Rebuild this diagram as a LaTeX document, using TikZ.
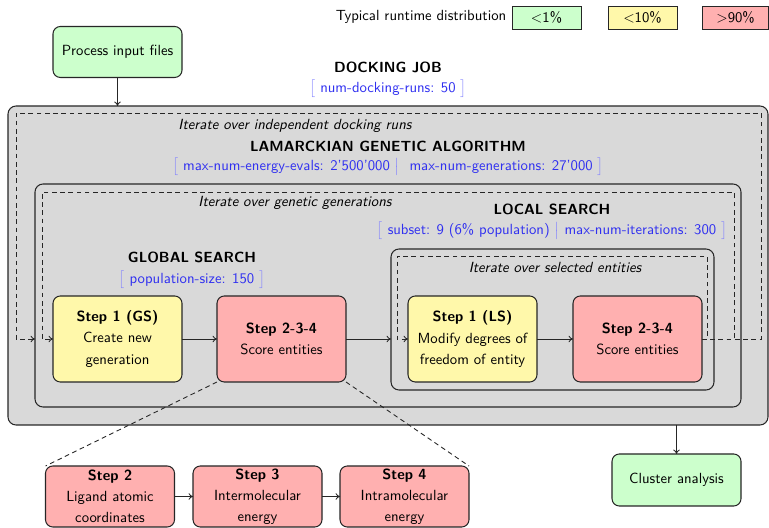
\documentclass[tikz,border=0pt]{standalone}
\usetikzlibrary{arrows.meta}
\renewcommand{\familydefault}{\sfdefault}

\definecolor{fastgreen}{HTML}{CCFFCC}
\definecolor{midyellow}{HTML}{FFF8AA}
\definecolor{slowred}{HTML}{FFB0B0}
\definecolor{panelgray}{HTML}{D9D9D9}
\definecolor{parblue}{HTML}{3030F0}
\definecolor{brackblue}{HTML}{8080FF}

% parameter brackets and separator
\newcommand{\pbopen}{{\color{brackblue}$\big[$}\ }
\newcommand{\pbclose}{\ {\color{brackblue}$\big]$}}
\newcommand{\pbsep}{\ {\color{brackblue}$\big|$}\ \ }

\begin{document}
\begin{tikzpicture}[
  x=0.68pt, y=-0.68pt,
  font=\sffamily,
  stepbox/.style={draw=black!85, line width=0.7pt, rounded corners=5pt,
    align=center, inner sep=0pt, outer sep=0pt,
    minimum width=129*0.68pt, minimum height=86*0.68pt,
    font=\sffamily\fontsize{10}{14.3}\selectfont},
  panel/.style={draw=black!85, line width=0.7pt, fill=panelgray,
    rounded corners=5.5pt, inner sep=0pt, outer sep=0pt},
  legbox/.style={draw=black!85, line width=0.6pt, inner sep=0pt,
    minimum width=69*0.68pt, minimum height=23*0.68pt},
  loopline/.style={draw=black!85, line width=0.6pt, dash pattern=on 3.2pt off 2.4pt},
  flow/.style={-{To[length=3pt,width=4.5pt]}, line width=0.6pt, draw=black!85},
  params/.style={text=parblue, inner sep=0.5pt},
  heading/.style={font=\sffamily\bfseries, inner sep=0.5pt},
  itlabel/.style={font=\sffamily\itshape, inner sep=0.5pt},
]
\useasboundingbox (0,0) rectangle (769,528);

% legend
\node (legtext) at (421,17) {Typical runtime distribution};
\node[legbox, fill=fastgreen] (leggreen) at (546.5,17.5) {$<$1\%};
\node[legbox, fill=midyellow] (legyellow) at (642.5,17.5) {$<$10\%};
\node[legbox, fill=slowred, minimum width=66*0.68pt] (legred) at (735.5,17.5) {$>$90\%};

% input and output
\node[stepbox, fill=fastgreen, minimum height=51*0.68pt] (proc) at (117.5,52) {Process input files};
\node[stepbox, fill=fastgreen, minimum height=52*0.68pt] (cluster) at (676.5,480) {Cluster analysis};

% nested panels
\node[panel, minimum width=760*0.68pt, minimum height=319*0.68pt] (job) at (388,265.5) {};
\node[panel, minimum width=706*0.68pt, minimum height=223*0.68pt] (lga) at (388,295.5) {};
\node[panel, minimum width=323*0.68pt, minimum height=141*0.68pt] (ls) at (552.5,319.5) {};

% titles and parameters
\node[heading] (jobtitle) at (388,67) {DOCKING JOB};
\node[params] (jobpar) at (388,89) {\pbopen num-docking-runs: 50\pbclose};
\node[itlabel] (runsloop) at (295,126) {Iterate over independent docking runs};
\node[heading] (lgatitle) at (388,146) {LAMARCKIAN GENETIC ALGORITHM};
\node[params] (lgapar) at (388,167) {\pbopen max-num-energy-evals: 2'500'000\pbsep max-num-generations: 27'000\pbclose};
\node[itlabel] (genloop) at (295,203) {Iterate over genetic generations};
\node[heading] (lstitle) at (552,209) {LOCAL SEARCH};
\node[params] (lspar) at (552,231) {\pbopen subset: 9 (6\% population)\ {\color{brackblue}$\big|$}\ max-num-iterations: 300\pbclose};
\node[heading] (gstitle) at (192,257) {GLOBAL SEARCH};
\node[params] (gspar) at (192,280) {\pbopen population-size: 150\pbclose};
\node[itlabel] (entloop) at (555,267) {Iterate over selected entities};

% iteration loops
\draw[loopline, flow] (702,339) -- (761,339) -- (761,113) -- (16,113) -- (16,339) -- (35,339);
\draw[loopline, flow] (702,339) -- (734,339) -- (734,192) -- (42,192) -- (42,339) -- (53,339);
\draw[loopline, flow] (702,339) -- (707,339) -- (707,256) -- (397,256) -- (397,339) -- (408,339);

% steps
\node[stepbox, fill=midyellow] (gs1) at (117.5,339) {\textbf{Step 1 (GS)}\\Create new\\generation};
\node[stepbox, fill=slowred] (gs234) at (281.5,339) {\textbf{Step 2-3-4}\\Score entities};
\node[stepbox, fill=midyellow] (ls1) at (472.5,339) {\textbf{Step 1 (LS)}\\Modify degrees of\\freedom of entity};
\node[stepbox, fill=slowred] (ls234) at (637.5,339) {\textbf{Step 2-3-4}\\Score entities};

% scoring breakdown
\node[stepbox, fill=slowred, minimum height=61*0.68pt] (s2) at (110,496.5) {\textbf{Step 2}\\Ligand atomic\\coordinates};
\node[stepbox, fill=slowred, minimum height=61*0.68pt] (s3) at (257.5,496.5) {\textbf{Step 3}\\Intermolecular\\energy};
\node[stepbox, fill=slowred, minimum height=61*0.68pt] (s4) at (404.5,496.5) {\textbf{Step 4}\\Intramolecular\\energy};

% connectors
\draw[flow] (proc.south) -- (proc.south |- job.north);
\draw[flow] (cluster.north |- job.south) -- (cluster.north);
\draw[flow] (gs1) -- (gs234);
\draw[flow] (gs234.east) -- (gs234.east -| ls.west);
\draw[flow] (ls1) -- (ls234);
\draw[flow] (s2) -- (s3);
\draw[flow] (s3) -- (s4);
\draw[loopline] (gs234.south west) -- (s2.north west);
\draw[loopline] (gs234.south east) -- (s4.north east);
\end{tikzpicture}
\end{document}
